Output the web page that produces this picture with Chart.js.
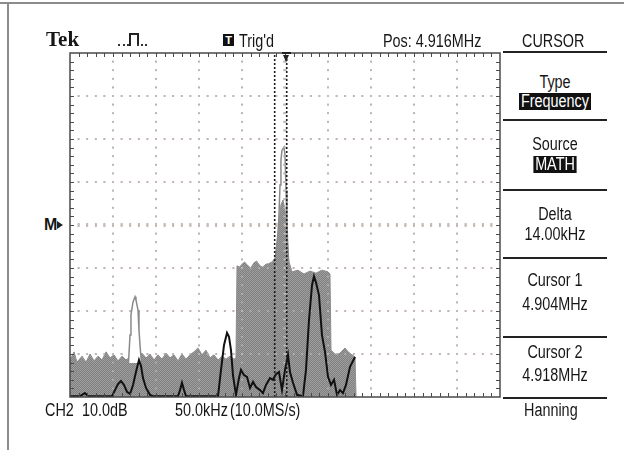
<!DOCTYPE html>
<html><head><meta charset="utf-8">
<script src="https://cdn.jsdelivr.net/npm/chart.js@4.4.1/dist/chart.umd.min.js"></script>
<style>
html,body{margin:0;padding:0;background:#fff;}
body{width:624px;height:450px;position:relative;overflow:hidden;font-family:"Liberation Sans",Arial,sans-serif;color:#161616;}
.t{position:absolute;font-size:18px;line-height:18px;white-space:nowrap;transform:scaleX(0.8);transform-origin:0 0;}
.m{position:absolute;left:503px;width:104px;text-align:center;font-size:18px;line-height:18px;white-space:nowrap;transform:scaleX(0.8);transform-origin:50% 0;}
.inv{display:inline-block;background:#111;color:#fff;padding:0 2px;line-height:17px;}
.rule{position:absolute;left:503px;width:104px;height:2px;background:#222;}
</style></head>
<body>
<div style="position:absolute;left:0;top:2px;width:624px;height:2px;background:#8c8c8c"></div>
<div style="position:absolute;left:7px;top:2px;width:2px;height:448px;background:#8c8c8c"></div>

<div id="wrap" style="position:absolute;left:62px;top:45px;width:446px;height:360px;"><canvas id="c" width="446" height="360"></canvas></div>

<div class="t" style="left:46px;top:29px;font-family:'Liberation Serif',serif;font-weight:bold;font-size:21px;line-height:21px;transform:none">Tek</div>
<div style="position:absolute;left:118px;top:33px;width:30px;height:13px;">
  <div style="position:absolute;left:0;bottom:0;width:11px;border-bottom:2px dotted #333"></div>
  <div style="position:absolute;left:11px;top:0;width:6px;height:11px;border:2px solid #222;border-bottom:none"></div>
  <div style="position:absolute;left:19px;bottom:0;width:10px;border-bottom:2px dotted #333"></div>
</div>
<div style="position:absolute;left:223px;top:34px;width:11px;height:12px;background:#111;color:#fff;font:bold 11px/12px 'Liberation Sans',sans-serif;text-align:center">T</div>
<div class="t" style="left:239px;top:32px">Trig'd</div>
<div class="t" style="left:383px;top:32px">Pos: 4.916MHz</div>
<div class="t" style="left:522px;top:32px">CURSOR</div>

<div class="rule" style="top:51px"></div>
<div class="m" style="top:73px">Type</div>
<div class="m" style="top:92px"><span class="inv">Frequency</span></div>
<div class="rule" style="top:119px"></div>
<div class="m" style="top:135px">Source</div>
<div class="m" style="top:155px"><span class="inv">MATH</span></div>
<div class="rule" style="top:189px"></div>
<div class="m" style="top:205px">Delta</div>
<div class="m" style="top:225px">14.00kHz</div>
<div class="rule" style="top:257px"></div>
<div class="m" style="top:271px">Cursor 1</div>
<div class="m" style="top:295px">4.904MHz</div>
<div class="rule" style="top:336px"></div>
<div class="m" style="top:343px">Cursor 2</div>
<div class="m" style="top:366px">4.918MHz</div>
<div class="rule" style="top:397px"></div>

<!-- reference marker and trigger-position marker -->
<div class="t" style="left:44px;top:217px;font-size:16px;line-height:16px;font-weight:bold;transform:none">M</div>
<div style="position:absolute;left:57px;top:221px;width:0;height:0;border-top:4px solid transparent;border-bottom:4px solid transparent;border-left:6px solid #222"></div>
<div style="position:absolute;left:282px;top:52px;width:9px;height:2px;background:#222"></div>
<div style="position:absolute;left:283px;top:55px;width:0;height:0;border-left:3.5px solid transparent;border-right:3.5px solid transparent;border-top:7px solid #222"></div>

<div class="t" style="left:45px;top:401px">CH2</div>
<div class="t" style="left:82px;top:401px">10.0dB</div>
<div class="t" style="left:175px;top:401px">50.0kHz</div>
<div class="t" style="left:230px;top:401px">(10.0MS/s)</div>
<div class="t" style="left:524px;top:401px">Hanning</div>

<script>
// ---- scale / graticule values ----
const xGridKHz = [4666, 4716, 4766, 4816, 4866, 4916, 4966, 5016, 5066, 5116, 5166]; // 50 kHz/div, centre 4.916 MHz
const yGridDB  = [0, 10, 20, 30, 40, 50, 60, 70, 80];                                 // 10 dB/div
const cursorKHz = [4904, 4918];

// ---- grey max-hold envelope ----
const envKHz = [4666.0,4670.7,4674.1,4680.0,4684.6,4689.3,4693.9,4698.6,4703.2,4707.9,4712.5,4717.2,4721.8,4726.5,4731.1,4735.8,4740.4,4745.1,4749.7,4754.4,4759.0,4763.7,4768.3,4773.0,4777.6,4782.3,4786.9,4791.6,4796.2,4800.9,4805.5,4810.2,4814.8,4819.5,4824.1,4828.8,4833.4,4838.1,4842.7,4847.4,4852.0,4856.7,4859.0,4860.2,4863.0,4866.0,4869.0,4873.0,4876.0,4880.0,4883.0,4886.9,4890.0,4893.9,4897.0,4900.9,4904.4,4906.7,4909.0,4911.3,4913.7,4916.0,4918.3,4920.7,4924.1,4931.1,4938.1,4945.1,4952.0,4959.0,4966.0,4968.3,4969.5,4975.3,4980.0,4985.8,4989.3,4993.9,4997.4,4998.6];
const envDB  = [8.6,10.5,8.1,9.5,8.1,10.0,8.4,9.5,8.6,10.5,9.1,9.8,8.4,9.5,8.6,9.3,10.0,9.3,10.2,9.1,10.0,8.6,9.8,8.8,10.2,9.1,9.8,8.4,10.0,8.8,9.8,10.5,11.4,9.8,10.9,9.1,9.8,8.6,9.5,8.8,9.5,8.8,9.1,30.5,30.2,30.9,31.4,30.5,30.0,31.2,31.6,30.5,30.2,30.9,31.0,31.4,32.3,36.5,40.7,44.7,45.8,43.5,38.4,31.4,29.1,29.5,28.6,29.3,28.8,29.5,29.1,28.6,10.9,9.8,10.2,11.4,10.5,9.8,9.3,0];

// ---- outlined peaks (reference trace) ----
const peakAKHz = [4734.0,4735.8,4736.9,4739.3,4741.6,4742.7,4745.1,4746.2,4747.4,4749.0];
const peakADB  = [7.9,14.4,19.1,22.1,23.3,22.6,20.2,15.6,12.1,7.9];
const peakBKHz = [4906.7,4909.0,4910.2,4911.3,4912.5,4914.8,4916.0,4917.2,4918.3,4919.5];
const peakBDB  = [32.3,42.3,49.3,55.1,57.4,58.1,56.3,48.1,40.7,32.3];

// ---- live (black) trace ----
const liveKHz = [4666.0,4677.6,4683.4,4686.9,4714.8,4718.3,4721.8,4725.3,4728.8,4732.3,4735.8,4739.3,4742.7,4746.2,4748.6,4750.9,4754.4,4759.0,4762.5,4791.6,4793.9,4796.2,4798.6,4800.9,4838.1,4841.6,4845.1,4848.6,4850.9,4853.2,4855.5,4859.0,4862.5,4864.8,4868.3,4871.8,4875.3,4878.8,4882.3,4886.9,4890.4,4893.9,4898.6,4902.0,4905.5,4909.0,4912.5,4916.0,4919.5,4921.8,4925.3,4930.0,4936.9,4940.4,4943.9,4947.4,4949.7,4952.0,4955.5,4959.0,4962.5,4966.0,4969.5,4973.0,4976.5,4980.0,4983.4,4986.9,4991.6,4997.4];
const liveDB  = [0.2,0.2,0.9,0.2,0.2,1.6,3.0,3.7,2.8,1.2,0.7,2.8,5.8,8.6,7.2,4.4,2.1,0.5,0.2,0.2,1.6,3.3,1.6,0.2,0.2,6.3,12.1,14.9,14.0,10.9,5.1,0.5,4.4,6.3,5.1,4.7,2.1,3.5,2.3,1.6,0.9,2.8,4.4,4.0,5.3,5.8,1.6,6.3,9.8,5.8,3.3,0.5,0.2,6.3,17.9,26.0,28.1,26.7,23.7,14.4,10.5,4.7,2.8,4.0,0.5,1.6,0.9,2.8,7.0,9.3];

const pts = (xs, ys) => xs.map((v, i) => ({x: v, y: ys[i]}));

// dithered grey pattern like the scope's LCD
const pc = document.createElement('canvas'); pc.width = 2; pc.height = 2;
const pctx = pc.getContext('2d');
pctx.fillStyle = '#9e9e9e'; pctx.fillRect(0,0,2,2);
pctx.fillStyle = '#808080'; pctx.fillRect(0,0,1,1); pctx.fillRect(1,1,1,1);
const greyPattern = pctx.createPattern(pc, 'repeat');

const ENV_INDEX = 4;

function dots(chart, color, size) {
  const {ctx, scales: {x, y}} = chart;
  const xMin = xGridKHz[0], xMax = xGridKHz[xGridKHz.length-1];
  const yMin = yGridDB[0], yMax = yGridDB[yGridDB.length-1];
  ctx.save(); ctx.fillStyle = color;
  xGridKHz.slice(1, -1).forEach(v => {
    const px = x.getPixelForValue(v);
    for (let d = yMin + 2; d < yMax; d += 2) {
      const py = y.getPixelForValue(d);
      const big = v === 4916;
      ctx.fillRect(px - (big ? 1.6 : size/2), py - size/2, big ? 3.2 : size, size);
    }
  });
  yGridDB.slice(1, -1).forEach(v => {
    const py = y.getPixelForValue(v);
    for (let f = xMin + 10; f < xMax; f += 10) {
      const px = x.getPixelForValue(f);
      const big = v === 40;
      ctx.fillRect(px - size/2, py - (big ? 1.8 : size/2), size, big ? 3.6 : size);
    }
  });
  ctx.restore();
}

const graticule = {
  id: 'graticule',
  beforeDatasetsDraw(chart) { dots(chart, '#a4928c', 1.8); },
  afterDatasetDraw(chart, args) { if (args.index === ENV_INDEX) dots(chart, 'rgba(205,196,192,0.85)', 1.5); },
  afterDatasetsDraw(chart) {
    const {ctx, chartArea: a, scales: {x, y}} = chart;
    ctx.save();
    ctx.strokeStyle = '#4a4a4a'; ctx.lineWidth = 1.5;
    ctx.strokeRect(a.left, a.top, a.right - a.left, a.bottom - a.top);
    ctx.lineWidth = 1;
    ctx.beginPath();
    for (let f = xGridKHz[0] + 10; f < xGridKHz[xGridKHz.length-1]; f += 10) {
      const px = Math.round(x.getPixelForValue(f)) + 0.5;
      ctx.moveTo(px, a.top); ctx.lineTo(px, a.top + 4);
      ctx.moveTo(px, a.bottom); ctx.lineTo(px, a.bottom - 4);
    }
    for (let d = yGridDB[0] + 2; d < yGridDB[yGridDB.length-1]; d += 2) {
      const py = Math.round(y.getPixelForValue(d)) + 0.5;
      ctx.moveTo(a.left, py); ctx.lineTo(a.left + 4, py);
      ctx.moveTo(a.right, py); ctx.lineTo(a.right - 4, py);
    }
    ctx.stroke();
    ctx.restore();
  }
};

new Chart(document.getElementById('c'), {
  type: 'line',
  data: {
    datasets: [
      {data: pts([cursorKHz[0], cursorKHz[0]], [yGridDB[0], yGridDB[yGridDB.length-1]]), borderColor: '#1a1a1a', borderWidth: 1.6, borderDash: [2, 2], fill: false},
      {data: pts([cursorKHz[1], cursorKHz[1]], [yGridDB[0], yGridDB[yGridDB.length-1]]), borderColor: '#1a1a1a', borderWidth: 1.6, borderDash: [2, 2], fill: false},
      {data: pts(liveKHz, liveDB), borderColor: '#111', borderWidth: 2, fill: false},
      {data: pts(peakAKHz, peakADB), borderColor: '#8a8a8a', borderWidth: 1.5, backgroundColor: '#ffffff', fill: {value: 7.9}},
      {data: pts(envKHz, envDB), borderColor: '#8c8c8c', borderWidth: 1, backgroundColor: greyPattern, fill: 'origin'},
      {data: pts(peakBKHz, peakBDB), borderColor: '#8a8a8a', borderWidth: 1.5, fill: false}
    ]
  },
  options: {
    responsive: false,
    animation: false,
    layout: {padding: 8},
    elements: {point: {radius: 0}, line: {tension: 0}},
    plugins: {legend: {display: false}, tooltip: {enabled: false}},
    scales: {
      x: {type: 'linear', min: xGridKHz[0], max: xGridKHz[xGridKHz.length-1], display: false},
      y: {type: 'linear', min: yGridDB[0], max: yGridDB[yGridDB.length-1], display: false}
    }
  },
  plugins: [graticule]
});
</script>
</body></html>
